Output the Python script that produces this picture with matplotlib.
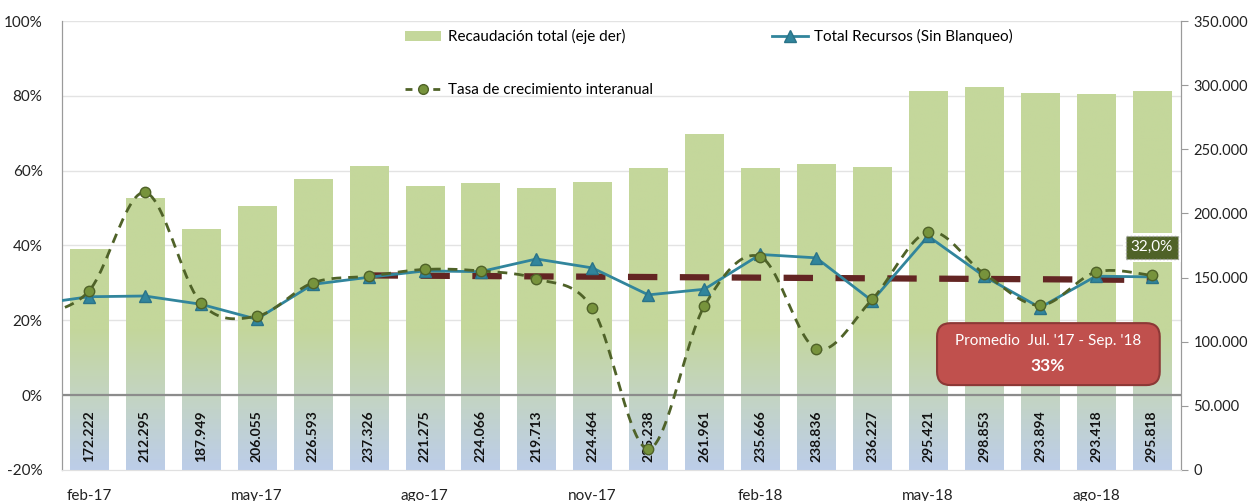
import matplotlib
matplotlib.use("Agg")
import matplotlib.pyplot as plt
import numpy as np
from matplotlib.patches import FancyBboxPatch, Patch
from matplotlib.lines import Line2D
from matplotlib.transforms import blended_transform_factory
from matplotlib.colors import LinearSegmentedColormap

plt.rcParams['font.family'] = ['Lato', 'DejaVu Sans']

# data
months = ['feb-17', 'mar-17', 'abr-17', 'may-17', 'jun-17', 'jul-17', 'ago-17',
          'sep-17', 'oct-17', 'nov-17', 'dic-17', 'ene-18', 'feb-18', 'mar-18',
          'abr-18', 'may-18', 'jun-18', 'jul-18', 'ago-18', 'sep-18']
recaudacion = [172222, 212295, 187949, 206055, 226593, 237326, 221275, 224066,
               219713, 224464, 235238, 261961, 235666, 238836, 236227, 295421,
               298853, 293894, 293418, 295818]
recursos = [26.3, 26.5, 24.3, 20.3, 29.6, 31.5, 33.2, 33.0, 36.4, 34.0,
            26.8, 28.3, 37.6, 36.7, 25.2, 42.5, 31.8, 23.4, 31.8, 31.6]
tasa = [27.8, 54.2, 24.7, 21.1, 30.0, 31.8, 33.6, 33.2, 31.1, 23.2,
        -14.4, 23.8, 37.0, 12.4, 25.6, 43.6, 32.5, 24.0, 32.9, 32.0]
# previous month (ene-17), only visible as the line stubs at the left edge
recursos_ene17 = 24.2
tasa_ene17 = 21.0
# average line jul-17 .. sep-18
promedio_desde = 'jul-17'
promedio_vals = [32.0, 30.8]
promedio_text = "Promedio  Jul. '17 - Sep. '18"
promedio_valor = "33%"
tasa_label = "32,0%"

green_bar = '#c4d79b'
blue_line = '#31859c'
olive = '#4f6228'


def smooth(xs, ys, n=24):
    # excel style smoothed line (catmull-rom through the points)
    xs = np.asarray(xs, float)
    ys = np.asarray(ys, float)
    px = np.concatenate([[xs[0]], xs, [xs[-1]]])
    py = np.concatenate([[ys[0]], ys, [ys[-1]]])
    out_x, out_y = [], []
    t = np.linspace(0, 1, n)
    for i in range(1, len(px) - 2):
        p0, p1, p2, p3 = [np.array([px[j], py[j]]) for j in (i - 1, i, i + 1, i + 2)]
        c1 = p1 + (p2 - p0) / 6
        c2 = p2 - (p3 - p1) / 6
        b = ((1 - t) ** 3)[:, None] * p1 + (3 * (1 - t) ** 2 * t)[:, None] * c1 \
            + (3 * (1 - t) * t ** 2)[:, None] * c2 + (t ** 3)[:, None] * p2
        out_x.extend(b[:, 0])
        out_y.extend(b[:, 1])
    return out_x, out_y


x = np.arange(len(months))
x_line = np.concatenate([[-1], x])

fig = plt.figure(figsize=(12.5, 5.01), dpi=100)
ax = fig.add_axes([0.0496, 0.062, 0.8952, 0.896])
ax2 = ax.twinx()
ax.set_zorder(ax2.get_zorder() + 1)
ax.patch.set_visible(False)

ax.set_xlim(-0.48, 19.52)
ax.set_ylim(-20, 100)
ax2.set_ylim(0, 350000)

# grid of the left axis, drawn behind the bars
grid_tr = blended_transform_factory(ax2.transAxes, ax.transData)
for v in range(0, 101, 20):
    ax2.plot([0, 1], [v, v], transform=grid_tr, color='#e3e3e3', lw=1, zorder=0.5)

# bars with the green -> blue fade at the bottom
cmap = LinearSegmentedColormap.from_list('fade', ['#bccde9', '#c3d4c4', green_bar])
fade = np.clip(np.linspace(0, 350000, 400) / 110000, 0, 1)[:, None]
w = 0.68
bars = ax2.bar(x, recaudacion, width=w, color='none', edgecolor='none', zorder=1)
for xi, b in zip(x, bars):
    im = ax2.imshow(fade, extent=[xi - w / 2, xi + w / 2, 0, 350000], aspect='auto',
                    origin='lower', cmap=cmap, vmin=0, vmax=1, zorder=1)
    im.set_clip_path(b)
ax2.set_xlim(-0.48, 19.52)
ax2.set_ylim(0, 350000)

lab_tr = blended_transform_factory(ax2.transData, ax2.transAxes)
for xi, v in zip(x, recaudacion):
    ax2.text(xi, 0.076, f"{v:,}".replace(',', '.'), transform=lab_tr, rotation=90,
             ha='center', va='center', fontsize=10, fontweight='bold', color='#111111', zorder=2)

ax.axhline(0, color='#8c8c8c', lw=1.6, zorder=2)

# average line
i0 = months.index(promedio_desde)
ax.plot([x[i0], x[-1]], promedio_vals, color='#632523', lw=4.5,
        linestyle=(0, (4.7, 3.6)), solid_capstyle='butt', zorder=3)

# total recursos
ax.plot(x_line, [recursos_ene17] + recursos, color=blue_line, lw=2, zorder=4)
ax.plot(x, recursos, '^', ms=9, mfc=blue_line, mec='#2a7388', zorder=4.5)

# tasa de crecimiento (smoothed dashed)
sx, sy = smooth(x_line, [tasa_ene17] + tasa)
ax.plot(sx, sy, color=olive, lw=2, linestyle=(0, (3.5, 2.5)), zorder=5)
ax.plot(x, tasa, 'o', ms=7.5, mfc='#77933c', mec=olive, mew=1, zorder=5.5)

# label of the last point
ax.text(x[-1], 39.5, tasa_label, ha='center', va='center', fontsize=11, color='white', zorder=6,
        bbox=dict(boxstyle='square,pad=0.5', fc='white', ec='none'))
ax.text(x[-1], 39.5, tasa_label, ha='center', va='center', fontsize=11, color='white', zorder=6.5,
        bbox=dict(boxstyle='square,pad=0.3', fc=olive, ec='#a0a0a0', ls=':', lw=1))

# promedio box
box = FancyBboxPatch((0.782, 0.189), 0.199, 0.138, transform=ax.transAxes,
                     boxstyle='round,pad=0,rounding_size=0.012', mutation_aspect=2.49,
                     fc='#c0504d', ec='#8c3836', lw=1.5, zorder=7)
ax.add_patch(box)
ax.text(0.881, 0.287, promedio_text, transform=ax.transAxes, ha='center', va='center',
        fontsize=11, color='white', zorder=8)
ax.text(0.881, 0.232, promedio_valor, transform=ax.transAxes, ha='center', va='center',
        fontsize=12.5, fontweight='bold', color='white', zorder=8)

# axes styling
ax.set_yticks(range(-20, 101, 20))
ax.set_yticklabels([f"{v}%" for v in range(-20, 101, 20)])
ax2.set_yticks(range(0, 350001, 50000))
ax2.set_yticklabels([f"{v:,}".replace(',', '.') for v in range(0, 350001, 50000)])
ax.set_xticks(x[::3])
ax.set_xticklabels(months[::3])
ax.tick_params(axis='y', length=0, pad=14, labelsize=11, labelcolor='#222222')
ax.tick_params(axis='x', length=0, pad=14, labelsize=11, labelcolor='#222222')
ax2.tick_params(axis='y', length=5, color='#9a9a9a', pad=4, labelsize=10.5, labelcolor='#222222')
for a in (ax, ax2):
    a.spines['top'].set_visible(False)
    a.spines['left'].set_color('#9a9a9a')
    a.spines['right'].set_color('#9a9a9a')
    a.spines['bottom'].set_color('#e0e0e0')

handles = [Patch(fc=green_bar, ec='none'),
           Line2D([], [], color=olive, lw=2, ls=(0, (2.5, 2.5)), marker='o', ms=7,
                  mfc='#77933c', mec=olive),
           Line2D([], [], color=blue_line, lw=2, marker='^', ms=9, mfc=blue_line, mec='#2a7388')]
labels = ['Recaudación total (eje der)', 'Tasa de crecimiento interanual',
          'Total Recursos (Sin Blanqueo)']
leg = ax.legend(handles, labels, ncol=2, loc='upper left', bbox_to_anchor=(0.294, 1.012),
                frameon=False, fontsize=11, labelspacing=2.55, columnspacing=7.8,
                handlelength=2.4, handletextpad=0.4)
leg.set_zorder(9)

fig.savefig('out.png', dpi=100)
